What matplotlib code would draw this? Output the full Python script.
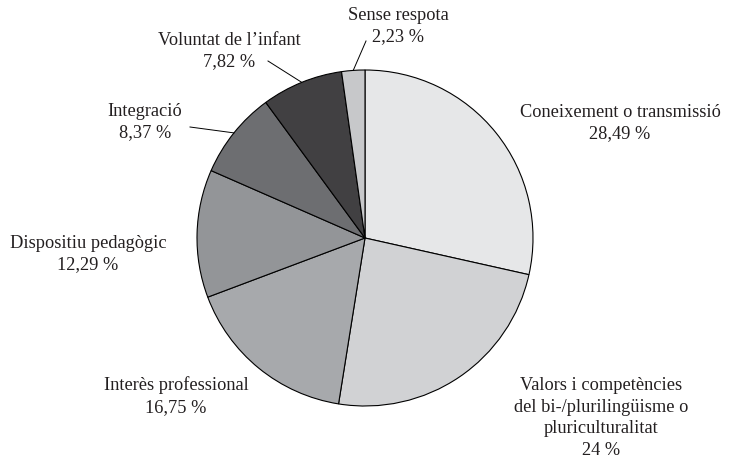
import numpy as np
import matplotlib.pyplot as plt

plt.rcParams['font.family'] = ['Liberation Serif', 'DejaVu Serif']

# ----------------------------------------
# Data
# ----------------------------------------
labels = ["Coneixement o transmissió",
          "Valors i competències\ndel bi-/plurilingüisme o\npluriculturalitat",
          "Interès professional",
          "Dispositiu pedagògic",
          "Integració",
          "Voluntat de l\u2019infant",
          "Sense respota"]
pct_text = ["28,49 %", "24 %", "16,75 %", "12,29 %", "8,37 %", "7,82 %", "2,23 %"]
values = [28.49, 24.0, 16.75, 12.29, 8.37, 7.82, 2.23]
colors = ["#e6e7e8", "#d1d2d4", "#a7a9ac", "#939598", "#6d6e71", "#414042", "#c7c8ca"]

# label placement in pixel coords (x, y from top), and which get leader lines
label_pos = [(620, 123), (601, 418), (176, 396), (88, 254), (145, 122), (229, 51), (398, 26)]
leader_end = {4: (190, 128), 5: (268, 62), 6: (366, 42)}

W, H = 737, 464
cx, cy, R = 365, H - 239, 168

fig = plt.figure(figsize=(W / 100, H / 100), dpi=100)
ax = fig.add_axes([0, 0, 1, 1])

wedges, _ = ax.pie(values, colors=colors, startangle=90, counterclock=False,
                   center=(cx, cy), radius=R, frame=False,
                   wedgeprops=dict(edgecolor="black", linewidth=0.8))
ax.set_xlim(0, W)
ax.set_ylim(0, H)
ax.set_aspect("auto")
ax.axis("off")

for i, w in enumerate(wedges):
    x, y = label_pos[i]
    ax.text(x, H - y, labels[i] + "\n" + pct_text[i], ha="center", va="center",
            fontsize=13.2, color="#231f20", linespacing=1.38)
    if i in leader_end:
        th = np.deg2rad(0.5 * (w.theta1 + w.theta2))
        x0, y0 = cx + R * np.cos(th), cy + R * np.sin(th)
        ex, ey = leader_end[i]
        ax.plot([x0, ex], [y0, H - ey], color="black", linewidth=0.7)

fig.savefig("out.png", dpi=100)
